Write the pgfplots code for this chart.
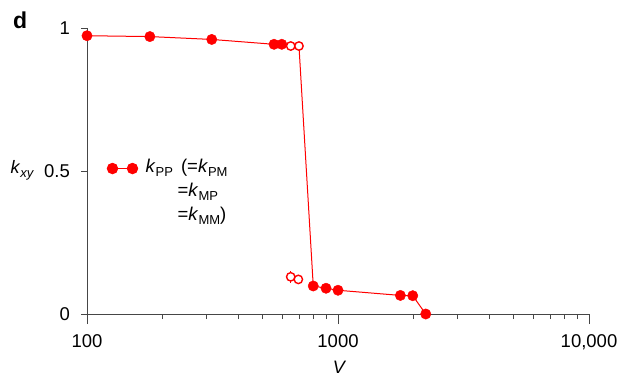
\documentclass[border=0pt]{standalone}
\usepackage{fontspec}
\setmainfont{Liberation Sans}
\usepackage{pgfplots}
\pgfplotsset{compat=1.18}
\definecolor{kred}{RGB}{255,0,0}
\definecolor{axgray}{RGB}{70,70,70}
% subscript in a slightly smaller upright face
\newcommand\sub[1]{\raisebox{-3.5bp}{\fontsize{13bp}{14bp}\selectfont #1}}
\newcommand\kk[1]{\textit{k}\sub{#1}}
% short line with a dot at each end, level with the first of three text lines
\pgfplotsset{dotline legend/.style={legend image code/.code={%
  \draw[#1] plot coordinates {(0bp,23bp) (20bp,23bp)};
  \path (0bp,-23bp);}}}
\begin{document}
\fontsize{18bp}{21bp}\selectfont
\begin{tikzpicture}[x=1bp,y=1bp]
\useasboundingbox (0,0) rectangle (618,378);
\node[anchor=base west, inner sep=0pt, font=\bfseries\fontsize{23bp}{25bp}\selectfont] at (13,350) {d};
\begin{axis}[
  at={(87bp,64bp)}, anchor=south west,
  scale only axis, width=502bp, height=286bp,
  xmode=log, xmin=100, xmax=10000, ymin=0, ymax=1,
  clip=false,
  axis lines=left,
  axis line style={-, axgray, line width=0.9bp},
  tick style={axgray, line width=0.9bp},
  tick align=outside,
  major tick length=10bp, minor tick length=5bp,
  ytick style={/pgfplots/major tick length=6bp},
  xtick={100,1000,10000},
  xticklabels={100,1000,{10,000}},
  ytick={0,0.5,1},
  yticklabels={0,0.5,1},
  minor ytick={},
  ticklabel style={font=\fontsize{18.5bp}{21bp}\selectfont, black},
  xticklabel style={yshift=-4bp},
  yticklabel style={xshift=-1bp},
  legend style={at={(rel axis cs:0.04,0.548)}, anchor=north west,
    draw=none, fill=none, inner sep=0pt,
    font=\fontsize{18.5bp}{24bp}\selectfont,
    cells={anchor=west, align=left}},
  legend cell align=left,
]
% connecting line through the measured values
\addplot[kred, line width=1bp, forget plot] coordinates {
  (100,0.973) (178,0.970) (314,0.960) (556,0.943) (597,0.943)
  (648,0.937) (699,0.937) (797,0.098) (896,0.090) (1000,0.083)
  (1772,0.065) (1985,0.064) (2236,0.0)
};
% filled markers
\addplot[only marks, mark=*, mark size=5.2bp, kred, mark options={fill=kred, draw=kred}, forget plot] coordinates {
  (100,0.973) (178,0.970) (314,0.960) (556,0.943) (597,0.943)
  (797,0.098) (896,0.090) (1000,0.083)
  (1772,0.065) (1985,0.064) (2236,0.0)
};
% open markers on the upper branch
\addplot[only marks, mark=*, mark size=4.2bp, mark options={fill=white, draw=kred, line width=1.4bp}, forget plot] coordinates {
  (648,0.937) (699,0.937)
};
% open markers with error bars on the lower branch
\addplot[only marks, forget plot, mark=*, mark size=4.2bp, mark options={fill=white, draw=kred, line width=1.4bp},
  error bars/.cd, y dir=both, y explicit,
  error bar style={kred, line width=1.2bp}, error mark=none]
  coordinates {
  (648,0.130) +- (0,0.020)
  (695,0.121) +- (0,0.012)
};
\addlegendimage{kred, line width=1bp, mark=*, mark size=5.2bp, mark options={fill=kred}, dotline legend}
\addlegendentry{\hspace*{6bp}\kk{PP}\hspace{8bp}(=\kk{PM}\\\hspace*{38bp}=\kk{MP}\\\hspace*{38bp}=\kk{MM})}
\node[anchor=base, inner sep=0pt] at (rel axis cs:-0.129,0.49) {\kk{\textit{xy}}};
\node[anchor=base, inner sep=0pt, font=\itshape] at (rel axis cs:0.5015,-0.207) {V};
\end{axis}
\end{tikzpicture}
\end{document}
